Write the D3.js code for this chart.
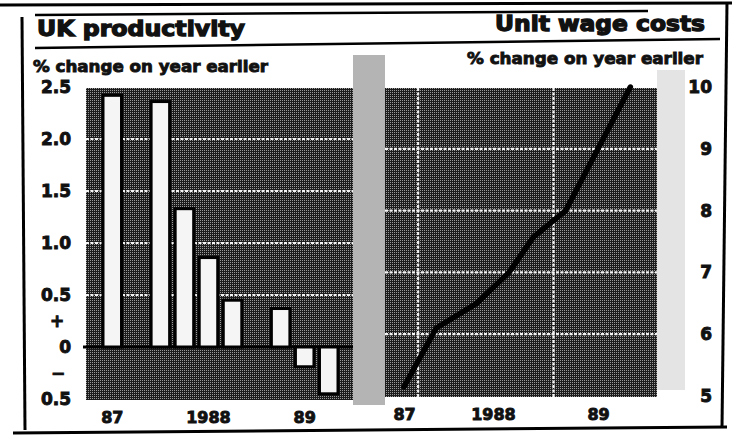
<!DOCTYPE html>
<html>
<head>
<meta charset="utf-8">
<script src="https://cdn.jsdelivr.net/npm/d3@7"></script>
<style>
  html, body { margin: 0; padding: 0; background: #ffffff; }
  svg { display: block; }
  text { font-family: "DejaVu Sans", "Liberation Sans", sans-serif; font-weight: bold; fill: #111; }
  .heavy { stroke: #111; stroke-width: 0.9px; paint-order: stroke; }
  .heavier { stroke: #111; stroke-width: 1.3px; paint-order: stroke; }
</style>
</head>
<body>
<svg id="chart" width="732" height="444"></svg>
<script>
// ---- data ----
const quarters = ["87Q1","87Q2","87Q3","87Q4","88Q1","88Q2","88Q3","88Q4","89Q1","89Q2"];
const productivity = [2.42, null, 2.36, 1.33, 0.86, 0.45, null, 0.37, -0.19, -0.45];
const leftTickValues = [2.5, 2.0, 1.5, 1.0, 0.5, 0, -0.5];
const leftTickLabels = ["2.5", "2.0", "1.5", "1.0", "0.5", "0", "0.5"];
const leftGridValues = [0.5, 1.0, 1.5, 2.0];
const leftXTickValues = ["87Q1", "88Q1", "89Q1"];
const leftXTickLabels = ["87", "1988", "89"];

const wageMonths = [0, 4, 9, 13, 16, 20, 28];          // months since Jan 1987
const wageValues = [5.15, 6.1, 6.5, 7.0, 7.57, 8.0, 10.0];
const rightTickValues = [10, 9, 8, 7, 6, 5];
const rightGridValues = [6, 7, 8, 9];
const rightVGridMonths = [1.75, 18.5];
const rightXTickValues = [0, 11, 24];
const rightXTickLabels = ["87", "1988", "89"];

const titleLeft = "UK productivity";
const titleRight = "Unit wage costs";
const subtitle = "% change on year earlier";

// ---- setup ----
const svg = d3.select("#chart");
const defs = svg.append("defs");
const pat = defs.append("pattern").attr("id", "stipple")
  .attr("width", 2).attr("height", 2).attr("patternUnits", "userSpaceOnUse");
pat.append("rect").attr("width", 2).attr("height", 2).attr("fill", "#1c1c1c");
pat.append("rect").attr("x", 0).attr("y", 0).attr("width", 1).attr("height", 1).attr("fill", "#9a9a9a");

const L = {x0: 86, x1: 353, y0: 88, y1: 400};
const R = {x0: 385, x1: 657, y0: 88, y1: 397};

// scan-noise gap between the panels
svg.append("rect").attr("x", 353).attr("y", 55).attr("width", 32).attr("height", 350)
  .attr("fill", "#b4b4b4");
svg.append("rect").attr("x", 657).attr("y", 70).attr("width", 28).attr("height", 320)
  .attr("fill", "#e4e4e4");

// ---- frame rules ----
const rules = [
  [0, 5, 732, 3, 3],
  [35, 15, 648, 11, 2.5],
  [35, 48, 720, 39, 2.5],
  [22, 17, 25, 430, 3],
  [727, 2, 722, 428, 3],
  [13, 433, 727, 427, 3]
];
svg.selectAll("line.rule").data(rules).join("line").attr("class", "rule")
  .attr("x1", d => d[0]).attr("y1", d => d[1]).attr("x2", d => d[2]).attr("y2", d => d[3])
  .attr("stroke", "#000").attr("stroke-width", d => d[4]);

// ---- titles ----
svg.append("text").attr("class", "heavier").attr("x", 37).attr("y", 36).attr("font-size", 21)
  .attr("textLength", 208).attr("lengthAdjust", "spacingAndGlyphs").text(titleLeft);
svg.append("text").attr("class", "heavier").attr("x", 705).attr("y", 31).attr("font-size", 21).attr("text-anchor", "end")
  .attr("textLength", 210).attr("lengthAdjust", "spacingAndGlyphs").text(titleRight);
svg.append("text").attr("class", "heavy").attr("x", 33).attr("y", 72).attr("font-size", 16)
  .attr("textLength", 235).attr("lengthAdjust", "spacingAndGlyphs").text(subtitle);
svg.append("text").attr("class", "heavy").attr("x", 703).attr("y", 64).attr("font-size", 16).attr("text-anchor", "end")
  .attr("textLength", 236).attr("lengthAdjust", "spacingAndGlyphs").text(subtitle);

// ---- left panel ----
const yL = d3.scaleLinear().domain([-0.5, 2.5]).range([399, 87]);
const xL = d3.scaleBand().domain(quarters).range([103, 338]).paddingInner(0.23).paddingOuter(0);

svg.append("rect").attr("x", L.x0).attr("y", L.y0).attr("width", L.x1 - L.x0).attr("height", L.y1 - L.y0)
  .attr("fill", "url(#stipple)");

svg.append("g").selectAll("line").data(leftGridValues).join("line")
  .attr("x1", L.x0).attr("x2", L.x1).attr("y1", d => yL(d)).attr("y2", d => yL(d))
  .attr("stroke", "#f4f4f4").attr("stroke-width", 2.2).attr("stroke-dasharray", "3,1.5");

svg.append("line").attr("x1", 83).attr("x2", L.x1).attr("y1", yL(0)).attr("y2", yL(0))
  .attr("stroke", "#000").attr("stroke-width", 3);

const barData = quarters.map((q, i) => ({q, v: productivity[i]})).filter(d => d.v !== null);
svg.append("g").selectAll("rect").data(barData).join("rect")
  .attr("x", d => xL(d.q))
  .attr("width", xL.bandwidth())
  .attr("y", d => d.v >= 0 ? yL(d.v) : yL(0))
  .attr("height", d => Math.abs(yL(d.v) - yL(0)))
  .attr("fill", "#f5f5f5").attr("stroke", "#000").attr("stroke-width", 3);

const axL = svg.append("g").attr("transform", `translate(${L.x0},0)`)
  .call(d3.axisLeft(yL).tickValues(leftTickValues)
    .tickFormat((d, i) => leftTickLabels[i]).tickSize(0).tickPadding(15));
axL.select(".domain").remove();
axL.selectAll("text").attr("class", "heavy").attr("font-size", 17).attr("font-family", "DejaVu Sans").attr("font-weight", "bold").attr("fill", "#111");

svg.append("text").attr("class", "heavy").attr("x", 57).attr("y", yL(0.25)).attr("dy", "0.35em").attr("font-size", 17)
  .attr("text-anchor", "middle").text("+");
svg.append("text").attr("class", "heavy").attr("x", 58).attr("y", yL(-0.25)).attr("dy", "0.35em").attr("font-size", 17)
  .attr("text-anchor", "middle").text("\u2212");

const axLB = svg.append("g").attr("transform", `translate(0,${L.y1})`)
  .call(d3.axisBottom(xL).tickValues(leftXTickValues)
    .tickFormat((d, i) => leftXTickLabels[i]).tickSize(0).tickPadding(12));
axLB.select(".domain").remove();
axLB.selectAll("text").attr("class", "heavy").attr("font-size", 16).attr("font-family", "DejaVu Sans").attr("font-weight", "bold").attr("fill", "#111");

// ---- right panel ----
const yR = d3.scaleLinear().domain([5, 10]).range([396, 87]);
const xR = d3.scaleLinear().domain([0, 24]).range([404, 598]);

svg.append("rect").attr("x", R.x0).attr("y", R.y0).attr("width", R.x1 - R.x0).attr("height", R.y1 - R.y0)
  .attr("fill", "url(#stipple)");

svg.append("g").selectAll("line").data(rightGridValues).join("line")
  .attr("x1", R.x0).attr("x2", R.x1).attr("y1", d => yR(d)).attr("y2", d => yR(d))
  .attr("stroke", "#f4f4f4").attr("stroke-width", 2.2).attr("stroke-dasharray", "3,1.5");
svg.append("g").selectAll("line").data(rightVGridMonths).join("line")
  .attr("x1", d => xR(d)).attr("x2", d => xR(d)).attr("y1", R.y0).attr("y2", R.y1)
  .attr("stroke", "#f4f4f4").attr("stroke-width", 2.2).attr("stroke-dasharray", "3,1.5");

const lineGen = d3.line().x(d => xR(d[0])).y(d => yR(d[1]));
svg.append("path").datum(wageMonths.map((m, i) => [m, wageValues[i]]))
  .attr("d", lineGen).attr("fill", "none").attr("stroke", "#000")
  .attr("stroke-width", 5.5).attr("stroke-linejoin", "round").attr("stroke-linecap", "round");

const axR = svg.append("g").attr("transform", "translate(712,0)")
  .call(d3.axisRight(yR).tickValues(rightTickValues).tickFormat(d3.format("d")).tickSize(0).tickPadding(0));
axR.select(".domain").remove();
axR.selectAll("text").attr("class", "heavy").attr("text-anchor", "end").attr("font-size", 17).attr("font-family", "DejaVu Sans").attr("font-weight", "bold").attr("fill", "#111");

const axRB = svg.append("g").attr("transform", `translate(0,${R.y1})`)
  .call(d3.axisBottom(xR).tickValues(rightXTickValues)
    .tickFormat((d, i) => rightXTickLabels[i]).tickSize(0).tickPadding(12));
axRB.select(".domain").remove();
axRB.selectAll("text").attr("class", "heavy").attr("font-size", 16).attr("font-family", "DejaVu Sans").attr("font-weight", "bold").attr("fill", "#111");
</script>
</body>
</html>
